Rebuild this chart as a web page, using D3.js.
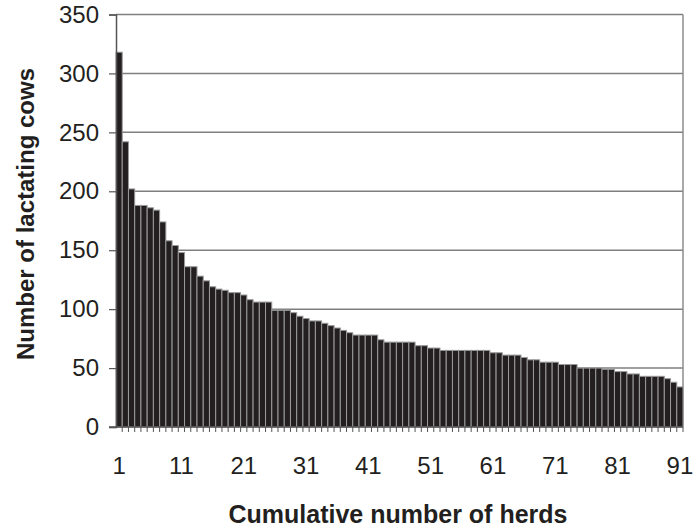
<!DOCTYPE html>
<html>
<head>
<meta charset="utf-8">
<script src="https://cdn.jsdelivr.net/npm/d3@7"></script>
<style>
  body { margin: 0; background: #fff; }
  svg { display: block; font-family: "Liberation Sans", Arial, sans-serif; }
</style>
</head>
<body>
<div id="chart"></div>
<script>
const cowCounts = [
  318, 242, 202, 188, 188, 186, 184, 174, 158, 154,
  148, 136, 136, 128, 124, 119, 117, 116, 114, 114,
  112, 108, 106, 106, 106, 99, 99, 99, 97, 94,
  92, 90, 90, 88, 86, 84, 82, 80, 78, 78,
  78, 78, 74, 72, 72, 72, 72, 72, 69, 69,
  67, 67, 65, 65, 65, 65, 65, 65, 65, 65,
  63, 63, 61, 61, 61, 59, 57, 57, 55, 55,
  55, 53, 53, 53, 50, 50, 50, 50, 49, 49,
  47, 47, 45, 45, 43, 43, 43, 43, 41, 38,
  34
];
const herdIds = cowCounts.map((d, i) => i + 1);
const yTicks = [0, 50, 100, 150, 200, 250, 300, 350];
const xLabelIds = [1, 11, 21, 31, 41, 51, 61, 71, 81, 91];

const width = 700, height = 529;
const margin = { top: 14.5, right: 17, bottom: 102, left: 116 };
const fontSize = 24;

const svg = d3.select("#chart").append("svg")
  .attr("width", width).attr("height", height);

const x = d3.scaleBand()
  .domain(herdIds)
  .range([margin.left, width - margin.right])
  .paddingInner(0).paddingOuter(0);

const y = d3.scaleLinear()
  .domain([0, 350])
  .range([height - margin.bottom, margin.top]);

// gridlines
svg.append("g")
  .selectAll("line")
  .data(yTicks.filter(d => d > 0))
  .join("line")
  .attr("x1", margin.left).attr("x2", width - margin.right)
  .attr("y1", d => y(d)).attr("y2", d => y(d))
  .attr("stroke", "#7f7f7f").attr("stroke-width", 1.5);

// right border
svg.append("line")
  .attr("x1", width - margin.right).attr("x2", width - margin.right)
  .attr("y1", y(350)).attr("y2", y(0))
  .attr("stroke", "#8c8c8c").attr("stroke-width", 1.5);

// bars
svg.append("g")
  .selectAll("rect")
  .data(cowCounts)
  .join("rect")
  .attr("x", (d, i) => x(herdIds[i]))
  .attr("width", x.bandwidth())
  .attr("y", d => y(d))
  .attr("height", d => y(0) - y(d))
  .attr("fill", "#231f20")
  .attr("stroke", "#9a9a9a")
  .attr("stroke-width", 1);

// y axis
const yAxis = svg.append("g")
  .attr("transform", `translate(${margin.left},0)`)
  .call(d3.axisLeft(y).tickValues(yTicks).tickSize(7).tickPadding(10));
yAxis.select(".domain").attr("stroke", "#555").attr("stroke-width", 1.5);
yAxis.selectAll(".tick line").attr("stroke", "#555").attr("stroke-width", 1.2);
yAxis.selectAll(".tick text")
  .attr("font-size", fontSize).attr("fill", "#231f20")
  .attr("font-family", "Liberation Sans, Arial, sans-serif");

// x axis: baseline + ticks at band boundaries
const xAxisG = svg.append("g");
xAxisG.append("line")
  .attr("x1", margin.left - 7).attr("x2", width - margin.right)
  .attr("y1", y(0)).attr("y2", y(0))
  .attr("stroke", "#555").attr("stroke-width", 1.5);
xAxisG.selectAll("line.tk")
  .data(herdIds)
  .join("line")
  .attr("class", "tk")
  .attr("x1", d => x(d) + x.bandwidth()).attr("x2", d => x(d) + x.bandwidth())
  .attr("y1", y(0)).attr("y2", y(0) + 5)
  .attr("stroke", "#555").attr("stroke-width", 1);
xAxisG.selectAll("text")
  .data(xLabelIds)
  .join("text")
  .attr("x", d => x(d) + x.bandwidth() / 2)
  .attr("y", 474)
  .attr("text-anchor", "middle")
  .attr("font-size", fontSize).attr("fill", "#231f20")
  .text(d => d);

// titles
svg.append("text")
  .attr("x", 398)
  .attr("y", 523)
  .attr("text-anchor", "middle")
  .attr("font-size", 25).attr("font-weight", "bold").attr("fill", "#231f20")
  .text("Cumulative number of herds");

svg.append("text")
  .attr("transform", `translate(34,214) rotate(-90)`)
  .attr("text-anchor", "middle")
  .attr("font-size", 24).attr("font-weight", "bold").attr("fill", "#231f20")
  .text("Number of lactating cows");
</script>
</body>
</html>
